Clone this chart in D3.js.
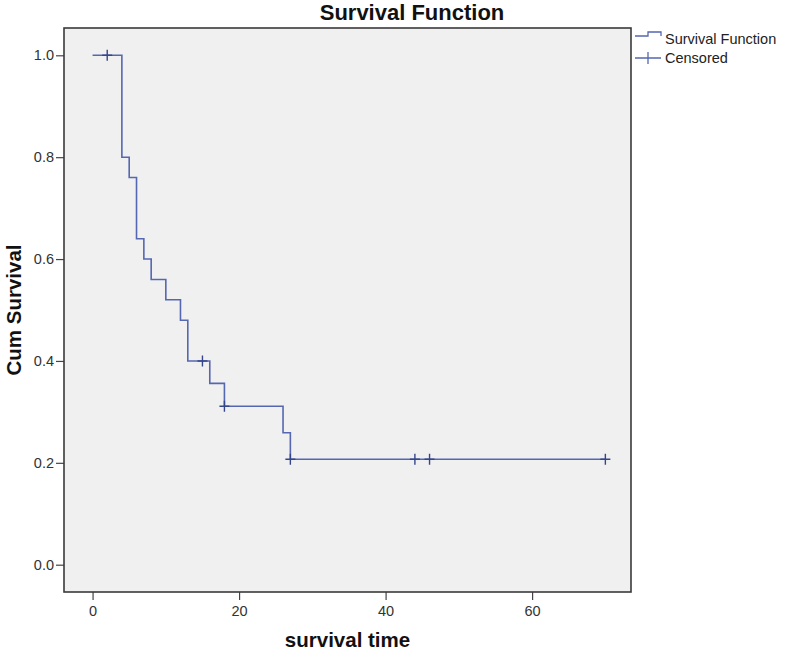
<!DOCTYPE html>
<html>
<head>
<meta charset="utf-8">
<script src="https://cdn.jsdelivr.net/npm/d3@7"></script>
<style>
  html, body { margin: 0; padding: 0; background: #ffffff; }
  svg { display: block; font-family: Arial, "Liberation Sans", sans-serif; }
</style>
</head>
<body>
<svg id="chart" width="785" height="655"></svg>
<script>
// ---- data ----
const stepTimes = [0, 4, 5, 6, 7, 8, 10, 12, 13, 16, 18, 26, 27];
const stepSurvival = [1.0, 0.80, 0.76, 0.64, 0.60, 0.56, 0.52, 0.48, 0.40, 0.356, 0.311, 0.259, 0.207];
const endTime = 70;
const censoredTimes = [2, 15, 18, 27, 44, 46, 70];
const censoredSurvival = [1.0, 0.40, 0.311, 0.207, 0.207, 0.207, 0.207];
const xTicks = [0, 20, 40, 60];
const yTicks = [0.0, 0.2, 0.4, 0.6, 0.8, 1.0];
const titleText = "Survival Function";
const xLabel = "survival time";
const yLabel = "Cum Survival";
const legendItems = ["Survival Function", "Censored"];

// ---- layout ----
const svg = d3.select("#chart");
const plot = { left: 64, right: 631, top: 28, bottom: 592 };
const lineColor = "#5567b0";
const markColor = "#34468a";

const x = d3.scaleLinear().domain([-3.9, 73.5]).range([plot.left, plot.right]);
const y = d3.scaleLinear().domain([-0.0536, 1.0536]).range([plot.bottom, plot.top]);

// plot background
svg.append("rect")
  .attr("x", plot.left).attr("y", plot.top)
  .attr("width", plot.right - plot.left).attr("height", plot.bottom - plot.top)
  .attr("fill", "#f0f0f0");

// axes
const yAxis = svg.append("g")
  .attr("transform", `translate(${plot.left},0)`)
  .call(d3.axisLeft(y).tickValues(yTicks).tickFormat(d3.format(".1f")).tickSize(8).tickPadding(2));
const xAxis = svg.append("g")
  .attr("transform", `translate(0,${plot.bottom})`)
  .call(d3.axisBottom(x).tickValues(xTicks).tickFormat(d3.format("d")).tickSize(8).tickPadding(6));
[xAxis, yAxis].forEach(g => {
  g.select(".domain").remove();
  g.selectAll(".tick line").attr("stroke", "#444").attr("stroke-width", 1.2);
  g.selectAll(".tick text").attr("fill", "#333").style("font-size", "14.5px")
    .style("font-family", "Arial, 'Liberation Sans', sans-serif");
});

// survival step line
const pts = stepTimes.map((t, i) => [t, stepSurvival[i]]);
pts.push([endTime, stepSurvival[stepSurvival.length - 1]]);
const line = d3.line().x(d => x(d[0])).y(d => y(d[1])).curve(d3.curveStepAfter);
svg.append("path")
  .datum(pts)
  .attr("d", line)
  .attr("fill", "none")
  .attr("stroke", lineColor)
  .attr("stroke-width", 1.6);

// censored marks
const cens = svg.append("g");
censoredTimes.forEach((t, i) => {
  const cx = x(t), cy = y(censoredSurvival[i]);
  cens.append("path")
    .attr("d", `M${cx - 5},${cy}H${cx + 5}M${cx},${cy - 5.5}V${cy + 5.5}`)
    .attr("stroke", markColor).attr("stroke-width", 1.4).attr("fill", "none");
});

// frame
svg.append("rect")
  .attr("x", plot.left).attr("y", plot.top)
  .attr("width", plot.right - plot.left).attr("height", plot.bottom - plot.top)
  .attr("fill", "none").attr("stroke", "#3a3a3a").attr("stroke-width", 1.6);

// title
svg.append("text")
  .attr("x", 412).attr("y", 20)
  .attr("text-anchor", "middle")
  .style("font-size", "22px").style("font-weight", "bold").attr("fill", "#111")
  .text(titleText);

// axis titles
svg.append("text")
  .attr("x", (plot.left + plot.right) / 2).attr("y", 647)
  .attr("text-anchor", "middle")
  .style("font-size", "20.5px").style("font-weight", "bold").attr("fill", "#111")
  .text(xLabel);
svg.append("text")
  .attr("transform", `translate(21,${(plot.top + plot.bottom) / 2}) rotate(-90)`)
  .attr("text-anchor", "middle")
  .style("font-size", "20.5px").style("font-weight", "bold").attr("fill", "#111")
  .text(yLabel);

// legend
const lg = svg.append("g");
const lx = 635, ly1 = 39, ly2 = 58;
lg.append("path")
  .attr("d", `M${lx},${ly1 - 3}H${lx + 13}V${ly1 - 7}H${lx + 26}V${ly1 - 3}`)
  .attr("fill", "none").attr("stroke", lineColor).attr("stroke-width", 1.3);
lg.append("path")
  .attr("d", `M${lx},${ly2}H${lx + 26}M${lx + 13},${ly2 - 6}V${ly2 + 6}`)
  .attr("fill", "none").attr("stroke", lineColor).attr("stroke-width", 1.3);
lg.selectAll("text.leg")
  .data(legendItems)
  .enter().append("text")
  .attr("class", "leg")
  .attr("x", lx + 30)
  .attr("y", (d, i) => (i === 0 ? ly1 : ly2) + 5)
  .style("font-size", "14.5px").attr("fill", "#222")
  .text(d => d);
</script>
</body>
</html>
